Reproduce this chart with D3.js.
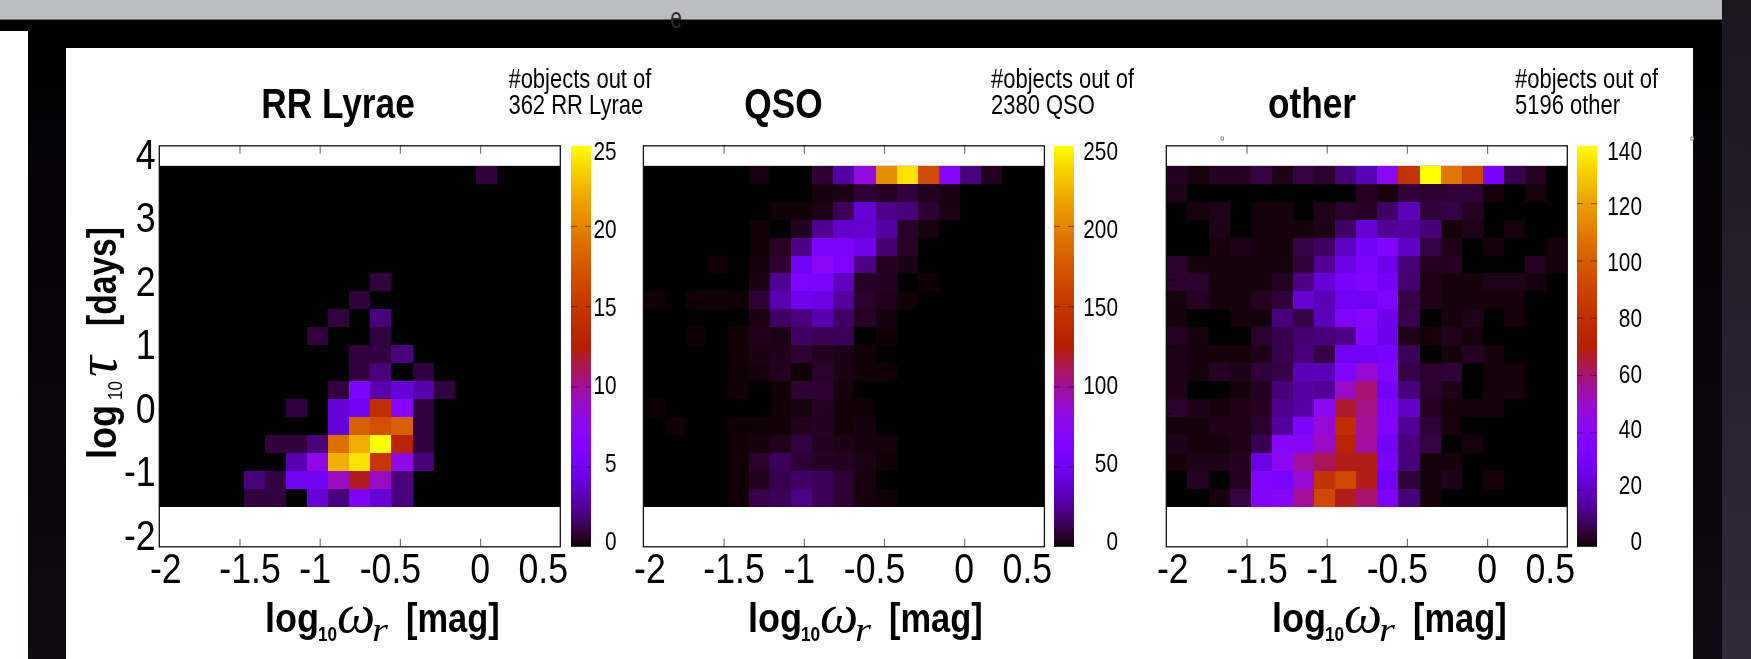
<!DOCTYPE html>
<html>
<head>
<meta charset="utf-8">
<script src="https://cdn.jsdelivr.net/npm/d3@7"></script>
<style>
  html, body { margin: 0; padding: 0; background: #000; }
  svg { display: block; }
  text { font-family: "Liberation Sans", Arial, sans-serif; fill: #000; }
</style>
</head>
<body>
<main></main>
<script>
var width = 1751;
var height = 659;

// counts per cell, rows run from the top of the plot down, columns from left to right
var rrLyraeCounts = [
  [0,0,0,0,0,0,0,0,0,0,0,0,0,0,0,1,0,0,0],
  [0,0,0,0,0,0,0,0,0,0,0,0,0,0,0,0,0,0,0],
  [0,0,0,0,0,0,0,0,0,0,0,0,0,0,0,0,0,0,0],
  [0,0,0,0,0,0,0,0,0,0,0,0,0,0,0,0,0,0,0],
  [0,0,0,0,0,0,0,0,0,0,0,0,0,0,0,0,0,0,0],
  [0,0,0,0,0,0,0,0,0,0,0,0,0,0,0,0,0,0,0],
  [0,0,0,0,0,0,0,0,0,0,1,0,0,0,0,0,0,0,0],
  [0,0,0,0,0,0,0,0,0,1,0,0,0,0,0,0,0,0,0],
  [0,0,0,0,0,0,0,0,1,0,2,0,0,0,0,0,0,0,0],
  [0,0,0,0,0,0,0,1,0,0,1,0,0,0,0,0,0,0,0],
  [0,0,0,0,0,0,0,0,0,1,1,2,0,0,0,0,0,0,0],
  [0,0,0,0,0,0,0,0,0,1,2,0,1,0,0,0,0,0,0],
  [0,0,0,0,0,0,0,0,1,6,3,4,3,1,0,0,0,0,0],
  [0,0,0,0,0,0,1,0,4,5,14,7,1,0,0,0,0,0,0],
  [0,0,0,0,0,0,0,0,4,18,17,18,1,0,0,0,0,0,0],
  [0,0,0,0,0,1,1,2,19,22,25,13,1,0,0,0,0,0,0],
  [0,0,0,0,0,0,3,8,22,24,15,8,2,0,0,0,0,0,0],
  [0,0,0,0,2,1,5,5,9,12,9,2,0,0,0,0,0,0,0],
  [0,0,0,0,1,1,0,4,2,6,4,2,0,0,0,0,0,0,0]
];

var qsoCounts = [
  [0,0,0,0,0,2,0,0,8,28,83,205,240,165,68,20,5,0,0],
  [0,0,0,0,0,0,0,0,2,3,8,6,10,5,3,0,0,0,0],
  [0,0,0,0,0,0,1,1,3,14,40,22,20,8,3,0,0,0,0],
  [0,0,0,0,0,1,0,5,24,36,38,28,6,2,0,0,0,0,0],
  [0,0,0,0,0,1,6,22,62,62,48,18,6,0,0,0,0,0,0],
  [0,0,0,1,0,2,8,50,75,62,22,6,3,0,0,0,0,0,0],
  [0,0,0,0,0,3,24,62,60,34,6,6,0,1,0,0,0,0,0],
  [1,0,1,1,1,8,30,48,44,26,7,4,1,0,0,0,0,0,0],
  [0,0,0,0,0,3,16,20,30,16,6,2,0,0,0,0,0,0,0],
  [0,0,1,0,1,4,3,16,14,14,0,1,0,0,0,0,0,0,0],
  [0,0,0,0,1,3,4,8,5,3,1,0,0,0,0,0,0,0,0],
  [0,0,0,0,1,2,5,1,7,3,1,1,0,0,0,0,0,0,0],
  [0,0,0,0,1,0,1,8,8,2,0,0,0,0,0,0,0,0,0],
  [1,0,0,0,0,0,1,2,6,1,1,0,0,0,0,0,0,0,0],
  [0,1,0,0,1,1,1,4,6,1,2,0,0,0,0,0,0,0,0],
  [0,0,0,0,1,2,4,10,5,3,2,2,0,0,0,0,0,0,0],
  [0,0,0,0,1,7,14,8,6,5,3,1,0,0,0,0,0,0,0],
  [0,0,0,0,1,5,12,16,14,8,2,0,0,0,0,0,0,0,0],
  [0,0,0,0,1,12,14,22,14,8,2,1,0,0,0,0,0,0,0]
];

var otherCounts = [
  [3,1,3,3,6,2,6,4,11,18,42,82,140,108,92,32,7,3,0],
  [2,0,0,0,0,0,0,0,0,3,1,5,4,5,5,1,0,1,0],
  [0,1,2,0,1,1,0,2,4,3,9,18,5,6,3,0,0,0,0],
  [0,0,2,0,1,1,1,2,9,22,14,15,11,1,2,0,1,0,0],
  [0,0,1,2,1,1,6,9,20,30,36,20,6,2,0,1,0,0,1],
  [4,1,1,1,1,1,5,14,26,34,26,11,3,3,0,0,0,3,1],
  [4,4,1,1,1,3,12,22,32,35,30,10,2,1,1,2,2,1,0],
  [1,3,1,1,3,5,22,18,28,28,34,6,2,1,1,1,1,0,0],
  [1,0,0,1,1,11,6,18,36,40,26,7,0,1,2,0,1,0,0],
  [3,1,0,0,4,7,10,11,12,36,26,2,1,2,1,0,0,0,0],
  [2,1,1,1,2,7,11,6,28,28,32,8,0,1,3,1,0,0,0],
  [2,1,3,2,5,6,18,18,36,48,36,6,4,5,0,1,1,0,0],
  [2,0,0,1,3,11,16,14,50,60,30,11,4,2,0,1,1,0,0],
  [4,2,1,2,3,13,16,42,66,58,34,20,3,1,1,1,0,0,0],
  [1,1,2,2,4,15,34,48,78,56,36,14,5,1,0,0,0,0,0],
  [2,1,1,2,7,40,40,50,72,55,30,11,6,0,1,0,0,0,0],
  [1,2,2,3,24,42,55,62,68,68,32,11,1,1,0,0,0,0,0],
  [0,3,0,3,36,33,48,82,92,68,28,5,1,2,0,1,0,0,0],
  [0,0,1,6,36,40,56,92,68,60,34,11,1,0,0,0,0,0,0]
];

var panelNames = ["RR Lyrae", "QSO", "other"];
var panelCounts = [rrLyraeCounts, qsoCounts, otherCounts];
var objectTotals = [362, 2380, 5196];
var colorMaxes = [25, 250, 140];
var colorTicks = [
  [0, 5, 10, 15, 20, 25],
  [0, 50, 100, 150, 200, 250],
  [0, 20, 40, 60, 80, 100, 120, 140]
];
var xTicks = [-2, -1.5, -1, -0.5, 0, 0.5];
var yTicks = [-2, -1, 0, 1, 2, 3, 4];

// where each panel sits on the page
var plotLefts = [159.3, 643.4, 1166.3];
var barLefts = [571, 1054, 1577];
var barLabelRights = [616.6, 1118, 1642];
var annotationLefts = [508.4, 991, 1515];
var titleCenters = [338, 783.5, 1312];
var xTitleLefts = [265, 748, 1272];
var plotTop = 145.8;
var plotSize = 401;
var barWidth = 20;

// the tick labels of the original were placed by hand next to their ticks
var xLabelNudge = { "-2": 6, "-1.5": 10, "-1": -5, "-0.5": -10, "0": -0.5, "0.5": -17.5 };

var svg = d3.select("main").append("svg")
    .attr("width", width)
    .attr("height", height);

var defs = svg.append("defs");

function shade(id, top, bottom) {
  var g = defs.append("linearGradient")
      .attr("id", id)
      .attr("x1", 0).attr("y1", 0)
      .attr("x2", 0).attr("y2", 1);
  g.append("stop").attr("offset", "0%").attr("stop-color", top);
  g.append("stop").attr("offset", "100%").attr("stop-color", bottom);
}
shade("edge", "#000", "#100a14");
shade("side", "#1a1620", "#34293a");

drawBackdrop();

// gnuplot's traditional pm3d palette (rgbformulae 7,5,15)
function pm3d(t) {
  var r = Math.sqrt(t);
  var g = t * t * t;
  var b = Math.max(0, Math.sin(2 * Math.PI * t));
  return d3.rgb(r * 255, g * 255, b * 255).formatHex();
}

panelNames.forEach(function(name, i) {
  drawPanel(i);
});

drawYTitle();

function drawBackdrop() {
  svg.append("rect").attr("width", width).attr("height", height).attr("fill", "#000");
  svg.append("rect").attr("x", 28).attr("y", 20).attr("width", 38).attr("height", 639).attr("fill", "url(#edge)");
  svg.append("rect").attr("x", 1693).attr("y", 20).attr("width", 31).attr("height", 639).attr("fill", "url(#edge)");
  svg.append("rect").attr("x", 1722).attr("y", 0).attr("width", 29).attr("height", 659).attr("fill", "url(#side)");
  svg.append("rect").attr("width", 1722).attr("height", 19).attr("fill", "#bcbdc0");
  svg.append("rect").attr("y", 19).attr("width", 1722).attr("height", 1).attr("fill", "#666");
  svg.append("rect").attr("y", 31).attr("width", 28).attr("height", 628).attr("fill", "#fff");
  svg.append("rect").attr("x", 66).attr("y", 48).attr("width", 1627).attr("height", 611).attr("fill", "#fff");

  svg.append("text")
      .attr("transform", "translate(676,28) scale(0.7,1)")
      .attr("text-anchor", "middle")
      .style("font-size", "30px")
      .style("fill", "#2a2a2a")
      .text("e");

  [1221, 1691].forEach(function(x) {
    svg.append("rect")
        .attr("x", x).attr("y", 137)
        .attr("width", 2.5).attr("height", 3)
        .attr("fill", "#fff")
        .attr("stroke", "#777")
        .attr("stroke-width", 0.8);
  });
}

function drawPanel(i) {
  var left = plotLefts[i];
  var counts = panelCounts[i];

  var x = d3.scaleLinear().domain([-2, 0.5]).range([left, left + plotSize]);
  var y = d3.scaleLinear().domain([4, -2]).range([plotTop, plotTop + plotSize]);

  // the histogram stops short of the axis range in log tau
  var binX = d3.scaleBand().domain(d3.range(counts[0].length)).range(x.range());
  var binY = d3.scaleBand().domain(d3.range(counts.length)).range([y(3.7), y(-1.4)]);

  var color = d3.scaleSequential(pm3d).domain([0, colorMaxes[i]]);

  var panel = svg.append("g")
      .attr("class", "panel")
      .style("filter", "blur(0.4px)");

  panel.append("rect")
      .attr("x", binX.range()[0])
      .attr("y", binY.range()[0])
      .attr("width", plotSize)
      .attr("height", binY.range()[1] - binY.range()[0])
      .attr("fill", "#000");

  counts.forEach(function(row, r) {
    panel.selectAll(null)
        .data(row)
      .enter().append("rect")
        .attr("x", function(d, c) { return binX(c); })
        .attr("y", binY(r))
        .attr("width", binX.bandwidth())
        .attr("height", binY.bandwidth())
        .attr("fill", function(d) { return color(d); })
        .style("shape-rendering", "crispEdges");
  });

  // ticks point inwards on all four sides, labels only on the bottom and the far left
  var inner = xTicks.slice(1, -1);
  var innerY = yTicks.slice(1, -1);

  panel.append("g")
      .attr("transform", "translate(0," + plotTop + ")")
      .call(d3.axisTop(x).tickValues(inner).tickSize(-8).tickFormat(""))
      .call(cleanAxis, "#777");

  panel.append("g")
      .attr("transform", "translate(" + (left + plotSize) + ",0)")
      .call(d3.axisRight(y).tickValues(innerY).tickSize(-8).tickFormat(""))
      .call(cleanAxis, "#000");

  var bottom = panel.append("g")
      .attr("transform", "translate(0," + (plotTop + plotSize) + ")")
      .call(d3.axisBottom(x).tickValues(xTicks).tickSize(-8).tickFormat(String))
      .call(cleanAxis, "#777");
  bottom.selectAll(".tick line")
      .filter(function(d) { return d === -2 || d === 0.5; })
      .remove();
  bottom.selectAll("text")
      .attr("y", null).attr("dy", null)
      .attr("text-anchor", "middle")
      .attr("transform", function(d) { return "translate(" + xLabelNudge[d] + ",36) scale(0.85,1)"; })
      .style("font-size", "42px");

  var leftAxis = panel.append("g")
      .attr("transform", "translate(" + left + ",0)")
      .call(d3.axisLeft(y).tickValues(yTicks).tickSize(-8).tickFormat(i === 0 ? String : ""))
      .call(cleanAxis, "#000");
  leftAxis.selectAll(".tick line")
      .filter(function(d) { return d === 4 || d === -2; })
      .remove();

  // the y labels were set closer together than the ticks
  var yLabel = d3.scaleLinear().domain([4, -2]).range([168, 549]);
  leftAxis.selectAll("text")
      .attr("x", null).attr("dy", null)
      .attr("text-anchor", "end")
      .attr("transform", function(d) {
        return "translate(-3.6," + (yLabel(d) - y(d)) + ") scale(0.85,1)";
      })
      .style("font-size", "42px");

  panel.append("rect")
      .attr("x", left).attr("y", plotTop)
      .attr("width", plotSize).attr("height", plotSize)
      .attr("fill", "none")
      .attr("stroke", "#111")
      .attr("stroke-width", 1.3);

  drawColorBar(panel, i, y.range(), color);
  drawTitles(panel, i);
}

function cleanAxis(g, tickColor) {
  g.select(".domain").remove();
  g.selectAll(".tick line").attr("stroke", tickColor).attr("stroke-width", 1.2);
  g.selectAll(".tick text").style("fill", "#000");
}

function drawColorBar(panel, i, range, color) {
  var left = barLefts[i];
  var domain = color.domain();
  var id = "bar" + i;

  var grad = defs.append("linearGradient")
      .attr("id", id)
      .attr("x1", 0).attr("y1", 1)
      .attr("x2", 0).attr("y2", 0);
  d3.range(0, 1.001, 0.02).forEach(function(t) {
    grad.append("stop")
        .attr("offset", t * 100 + "%")
        .attr("stop-color", color(t * domain[1]));
  });

  panel.append("rect")
      .attr("x", left).attr("y", range[0])
      .attr("width", barWidth).attr("height", range[1] - range[0])
      .attr("fill", "url(#" + id + ")");

  var scale = d3.scaleLinear().domain(domain).range([range[1], range[0]]);
  var ticks = colorTicks[i];
  var labelY = d3.scaleLinear().domain(domain).range([549.5, 159]);

  panel.append("g")
      .attr("transform", "translate(" + left + ",0)")
      .call(d3.axisLeft(scale).tickValues(ticks.slice(1, -1)).tickSize(-6).tickFormat(""))
      .call(cleanAxis, "rgba(0,0,0,0.4)");

  var right = panel.append("g")
      .attr("transform", "translate(" + (left + barWidth) + ",0)")
      .call(d3.axisRight(scale).tickValues(ticks).tickSize(-6).tickFormat(String))
      .call(cleanAxis, "rgba(0,0,0,0.4)");
  right.selectAll(".tick line")
      .filter(function(d) { return d === domain[0] || d === domain[1]; })
      .remove();
  right.selectAll("text")
      .attr("x", null).attr("dy", null)
      .attr("text-anchor", "end")
      .attr("transform", function(d) {
        return "translate(" + (barLabelRights[i] - left - barWidth) + "," + (labelY(d) - scale(d)) + ") scale(0.8,1)";
      })
      .style("font-size", "26px");
}

// one run of a composed label, placed along the label's own direction
function piece(g, str, along, drop, size, stretch, kind) {
  var t = g.append("text")
      .attr("transform", "translate(" + along + "," + drop + ") scale(" + stretch + ",1)")
      .style("font-size", size + "px")
      .text(str);
  if (kind === "math") {
    t.style("font-family", "'Liberation Serif', serif").style("font-style", "italic");
  } else if (kind === "bold") {
    t.style("font-weight", "bold");
  }
}

function drawTitles(panel, i) {
  panel.append("text")
      .attr("transform", "translate(" + titleCenters[i] + ",118) scale(0.84,1)")
      .attr("text-anchor", "middle")
      .style("font-size", "42px")
      .style("font-weight", "bold")
      .text(panelNames[i]);

  var note = panel.append("g")
      .attr("transform", "translate(" + annotationLefts[i] + ",0) scale(0.815,1)");
  note.append("text").attr("y", 88).style("font-size", "27px").text("#objects out of");
  note.append("text").attr("y", 114.5).style("font-size", "27px").text(objectTotals[i] + " " + panelNames[i]);

  var label = panel.append("g")
      .attr("transform", "translate(" + xTitleLefts[i] + ",632)");
  piece(label, "log", 0, 0, 41, 0.88, "bold");
  piece(label, "10", 53, 9, 21, 0.82, "bold");
  piece(label, "\u03c9", 72, 0, 54, 1, "math");
  piece(label, "r", 107, 9, 34, 1.2, "math");
  piece(label, "[mag]", 141, 0, 41, 0.84, "bold");
}

function drawYTitle() {
  var label = svg.append("g")
      .attr("transform", "translate(116,459) rotate(-90)")
      .style("filter", "blur(0.4px)");
  piece(label, "log", 0, 0, 41, 0.88, "bold");
  piece(label, "10", 59, 6, 20, 0.85, "plain");
  piece(label, "\u03c4", 82, 0, 58, 1, "math");
  piece(label, "[days]", 133, 0, 41, 0.82, "bold");
}
</script>
</body>
</html>
